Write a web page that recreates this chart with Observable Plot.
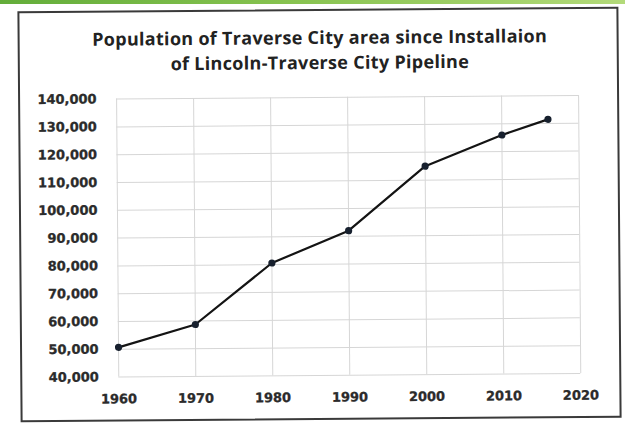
<!DOCTYPE html>
<html>
<head>
<meta charset="utf-8">
<script src="https://cdn.jsdelivr.net/npm/d3@7"></script>
<script src="https://cdn.jsdelivr.net/npm/@observablehq/plot@0.6"></script>
<style>
  html, body { margin: 0; padding: 0; background: #fff; }
  body { width: 625px; height: 424px; position: relative; overflow: hidden; }
  #band {
    position: absolute; left: 0; top: 0; width: 625px; height: 4px;
    background: linear-gradient(90deg, #63ad3a 0%, #86c24f 45%, #b3da7a 100%);
  }
  #sheet {
    position: absolute; left: 0; top: 0; width: 625px; height: 424px;
    transform: rotate(-0.45deg); transform-origin: 320px 214px;
  }
  #frame {
    position: absolute; left: 19px; top: 9px; width: 597px; height: 407px;
    border: 2px solid #3a3a3a; background: #fff;
  }
  #title {
    position: absolute; left: 0; top: 25px; width: 642px; text-align: center;
    font-family: "Open Sans", Lato, sans-serif; font-weight: 700; font-size: 18px;
    letter-spacing: 0.3px; line-height: 25px; color: #222;
  }
  #chart { position: absolute; left: 0; top: 80px; }
  #chart svg g[aria-label$="axis tick label"] text { stroke: #2b2b2b; stroke-width: 0.3px; }
</style>
</head>
<body>
<div id="band"></div>
<div id="sheet">
  <div id="frame"></div>
  <div id="title">Population of Traverse City area since Installaion<br>of Lincoln-Traverse City Pipeline</div>
  <div id="chart"></div>
</div>
<script>
// Census-year population of the Traverse City area
const years = [1960, 1970, 1980, 1990, 2000, 2010, 2016];
const population = [50700, 58700, 80600, 92000, 115000, 126000, 131500];

// Axis ticks
const yearTicks = [1960, 1970, 1980, 1990, 2000, 2010, 2020];
const popTicks = [40000, 50000, 60000, 70000, 80000, 90000, 100000, 110000, 120000, 130000, 140000];

const rows = years.map((year, i) => ({year, population: population[i]}));

const chart = Plot.plot({
  width: 625,
  height: 344,
  marginLeft: 117,
  marginRight: 46,
  marginTop: 17,
  marginBottom: 49,
  style: {fontFamily: "'DejaVu Sans', Verdana, sans-serif", fontWeight: "bold", fontSize: "13px", color: "#2b2b2b", background: "transparent"},
  x: {domain: [1960, 2020], label: null},
  y: {domain: [40000, 140000], label: null},
  marks: [
    Plot.gridX(yearTicks, {stroke: "#d6d6d6", strokeOpacity: 1, strokeWidth: 1}),
    Plot.gridY(popTicks, {stroke: "#d6d6d6", strokeOpacity: 1, strokeWidth: 1}),
    Plot.axisX({ticks: yearTicks, tickFormat: d => String(d), tickSize: 0, tickPadding: 17, label: null}),
    Plot.axisY({ticks: popTicks, tickFormat: d3.format(","), tickSize: 0, tickPadding: 20, label: null}),
    Plot.line(rows, {x: "year", y: "population", stroke: "#141414", strokeWidth: 2.2}),
    Plot.dot(rows, {x: "year", y: "population", r: 3.6, fill: "#17202e", stroke: "none"})
  ]
});

document.getElementById("chart").appendChild(chart);
</script>
</body>
</html>
